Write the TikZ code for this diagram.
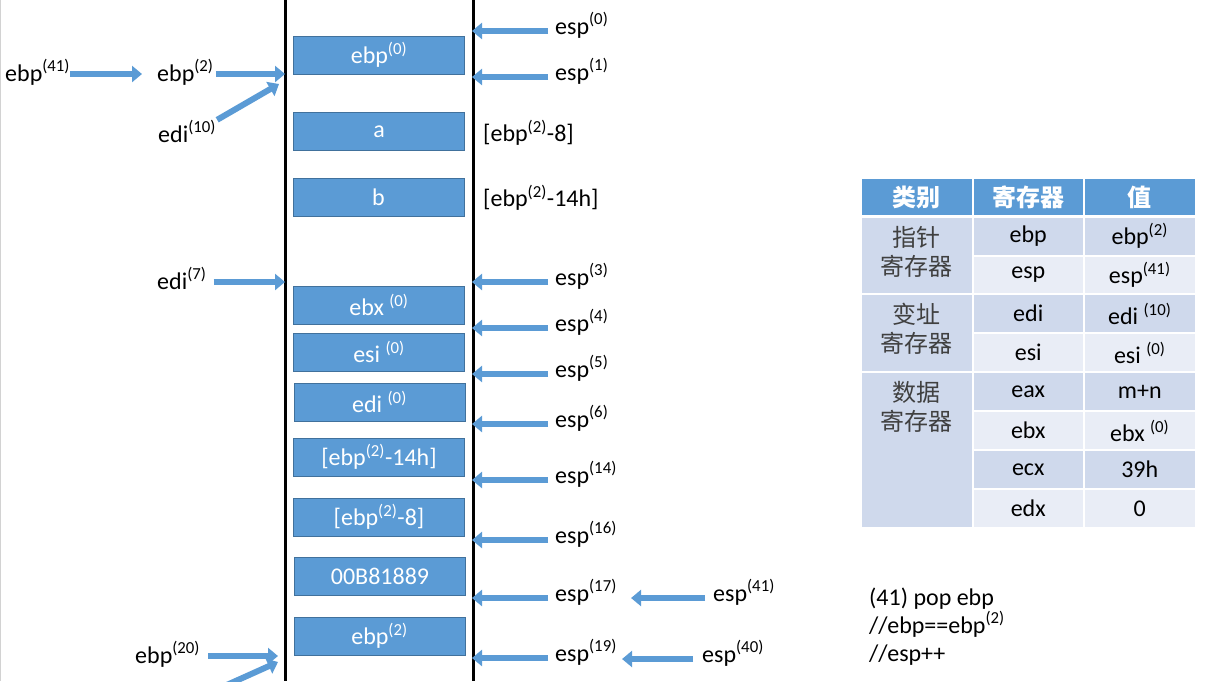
\documentclass[tikz,border=0pt]{standalone}
\usepackage{fontspec}
\setmainfont{Carlito}
\newfontfamily\cjk{Noto Sans CJK SC}
\usetikzlibrary{positioning,arrows.meta,calc}
\definecolor{stackblue}{RGB}{91,155,213}
\definecolor{stackedge}{RGB}{65,113,156}
\definecolor{rowdark}{RGB}{207,217,236}
\definecolor{rowlight}{RGB}{233,237,246}
\definecolor{catgray}{RGB}{64,64,64}
\newcommand{\sreg}[2]{#1\textsuperscript{(#2)}}

\begin{document}
\begin{tikzpicture}[x=1pt,y=-1pt,font=\fontsize{24}{29}\selectfont,
                slot/.style={rectangle,draw=stackedge,fill=stackblue,text=white,
                             minimum width=171pt,minimum height=38pt,inner sep=0pt},
                wall/.style={black,line width=3pt},
                blk/.style={-{Triangle[length=10pt,width=16pt]},stackblue,line width=6pt},
                esplbl/.style={anchor=west,inner sep=0pt,text height=10pt,text depth=4pt},
                reglbl/.style={anchor=west,inner sep=0pt,text height=18pt,text depth=4pt},
                cell/.style={rectangle,draw=white,line width=2pt,minimum width=111.5pt,
                             minimum height=38.5pt,inner sep=0pt},
                hcell/.style={cell,fill=stackblue,text=white,minimum height=38pt,
                              font=\fontsize{24}{29}\selectfont\cjk\bfseries},
                dcell/.style={cell,fill=rowdark},
                lcell/.style={cell,fill=rowlight},
                cattxt/.style={align=center,inner sep=0pt,text=catgray,
                               font=\fontsize{24}{29}\selectfont\cjk}]
                \clip (0,0) rectangle (1230,681);
                \draw[gray!35,line width=1pt] (0.5,0) -- (0.5,681);
                % stack walls
                \coordinate (lwtop) at (285,0);
                \coordinate (lwbot) at (285,681);
                \coordinate (rwtop) at (473,0);
                \coordinate (rwbot) at (473,681);
                \draw[wall] (lwtop) -- (lwbot);
                \draw[wall] (rwtop) -- (rwbot);
                % stack slots
                \node[slot] (s0)    at (379,55)  {\sreg{ebp}{0}};
                \node[slot] (sa)    at (379,131.5) {a};
                \node[slot] (sb)    at (378.5,197) {b};
                \node[slot] (sebx)  at (379,305) {ebx \textsuperscript{(0)}};
                \node[slot] (sesi)  at (379,352) {esi \textsuperscript{(0)}};
                \node[slot] (sedi)  at (379.5,402) {edi \textsuperscript{(0)}};
                \node[slot] (s14h)  at (379,457) {[\sreg{ebp}{2}-14h]};
                \node[slot] (s8)    at (379,517) {[\sreg{ebp}{2}-8]};
                \node[slot] (sret)  at (380,576) {00B81889};
                \node[slot] (sebp2) at (379.5,636) {\sreg{ebp}{2}};
                \node[anchor=west,inner sep=0pt] (offa) at (483,133) {[\sreg{ebp}{2}-8]};
                \node[anchor=west,inner sep=0pt] (offb) at (483,198) {[\sreg{ebp}{2}-14h]};
                % esp pointers
                \node[esplbl] (e0)  at (555,31)  {\sreg{esp}{0}};
                \node[esplbl] (e1)  at (555,77)  {\sreg{esp}{1}};
                \node[esplbl] (e3)  at (555,282) {\sreg{esp}{3}};
                \node[esplbl] (e4)  at (555,328) {\sreg{esp}{4}};
                \node[esplbl] (e5)  at (555,374) {\sreg{esp}{5}};
                \node[esplbl] (e6)  at (555,424) {\sreg{esp}{6}};
                \node[esplbl] (e14) at (555,480) {\sreg{esp}{14}};
                \node[esplbl] (e16) at (555,540) {\sreg{esp}{16}};
                \node[esplbl] (e17) at (555,598) {\sreg{esp}{17}};
                \node[esplbl] (e19) at (555,658) {\sreg{esp}{19}};
                \node[esplbl] (e41) at (713,598) {\sreg{esp}{41}};
                \node[esplbl] (e40) at (702,659) {\sreg{esp}{40}};
                \draw[blk,shorten <=7pt,shorten >=-1pt] (e0.west)  -- (e0.west -| rwtop);
                \draw[blk,shorten <=7pt,shorten >=-1pt] (e1.west)  -- (e1.west -| rwtop);
                \draw[blk,shorten <=7pt,shorten >=-1pt] (e3.west)  -- (e3.west -| rwtop);
                \draw[blk,shorten <=7pt,shorten >=-1pt] (e4.west)  -- (e4.west -| rwtop);
                \draw[blk,shorten <=7pt,shorten >=-1pt] (e5.west)  -- (e5.west -| rwtop);
                \draw[blk,shorten <=7pt,shorten >=-1pt] (e6.west)  -- (e6.west -| rwtop);
                \draw[blk,shorten <=7pt,shorten >=-1pt] (e14.west) -- (e14.west -| rwtop);
                \draw[blk,shorten <=7pt,shorten >=-1pt] (e16.west) -- (e16.west -| rwtop);
                \draw[blk,shorten <=7pt,shorten >=-1pt] (e17.west) -- (e17.west -| rwtop);
                \draw[blk,shorten <=7pt,shorten >=-1pt] (e19.west) -- (e19.west -| rwtop);
                \draw[blk,shorten <=8pt,shorten >=14pt] (e41.west) -- (e41.west -| e17.east);
                \draw[blk,shorten <=9pt,shorten >=5pt]  (e40.west) -- (e40.west -| e19.east);
                % ebp / edi pointers
                \node[reglbl] (l41) at (5,74)    {\sreg{ebp}{41}};
                \node[reglbl] (l2)  at (157,74)  {\sreg{ebp}{2}};
                \node[reglbl] (l10) at (158,135) {\sreg{edi}{10}};
                \node[reglbl] (l7)  at (157,282) {\sreg{edi}{7}};
                \node[reglbl] (l20) at (135,656) {\sreg{ebp}{20}};
                \coordinate (ebptip)  at (279,84);
                \coordinate (offlow)  at (200,697);
                \coordinate (ebp2tip) at (278,662);
                \draw[blk,shorten >=15pt] (l41.east) -- (l2.west);
                \draw[blk,shorten <=2pt] (l2.east) -- (l2.east -| lwtop);
                \draw[blk] ([shift={(1,-4)}]l10.north east) -- (ebptip);
                \draw[blk,shorten <=7pt] (l7.east) -- (l7.east -| lwtop);
                \draw[blk,shorten <=8pt,shorten >=7pt] (l20.east) -- (l20.east -| lwtop);
                \draw[blk] (offlow) -- (ebp2tip);
                % register table
                \node[hcell] (hcat) at (916.75,197)  {类别};
                \node[hcell] (hreg) at (1028.25,197) {寄存器};
                \node[hcell] (hval) at (1139.75,197) {值};
                \node[dcell,minimum height=77pt]  (kptr) at (916.75,255.5) {};
                \node[dcell,minimum height=78pt]  (kidx) at (916.75,333)   {};
                \node[dcell,minimum height=156pt] (kdat) at (916.75,450)   {};
                \node[cattxt] (tptr) at (916.75,252) {指针\\寄存器};
                \node[cattxt] (tidx) at (916.75,329) {变址\\寄存器};
                \node[cattxt] (tdat) at (916.75,407) {数据\\寄存器};
                \node[dcell] (rebp) at (1028.25,236.25) {ebp};
                \node[dcell] (vebp) at (1139.75,236.25) {\sreg{ebp}{2}};
                \node[lcell] (resp) at (1028.25,274.75) {esp};
                \node[lcell] (vesp) at (1139.75,274.75) {\sreg{esp}{41}};
                \node[dcell] (redi) at (1028.25,313.5)  {edi};
                \node[dcell] (vedi) at (1139.75,313.5)  {edi \textsuperscript{(10)}};
                \node[lcell] (resi) at (1028.25,352.5)  {esi};
                \node[lcell] (vesi) at (1139.75,352.5)  {esi \textsuperscript{(0)}};
                \node[dcell] (reax) at (1028.25,391.5)  {eax};
                \node[dcell] (veax) at (1139.75,391.5)  {m+n};
                \node[lcell] (rebx) at (1028.25,430.5)  {ebx};
                \node[lcell] (vebx) at (1139.75,430.5)  {ebx \textsuperscript{(0)}};
                \node[dcell] (recx) at (1028.25,469.5)  {ecx};
                \node[dcell] (vecx) at (1139.75,469.5)  {39h};
                \node[lcell] (redx) at (1028.25,508.5)  {edx};
                \node[lcell] (vedx) at (1139.75,508.5)  {0};
                % note
                \node[anchor=base west,inner sep=0pt] (note1) at (869,605) {(41) pop ebp};
                \node[anchor=base west,inner sep=0pt] (note2) at (869,633) {//ebp==\sreg{ebp}{2}};
                \node[anchor=base west,inner sep=0pt] (note3) at (869,661) {//esp++};
            \end{tikzpicture}
\end{document}
